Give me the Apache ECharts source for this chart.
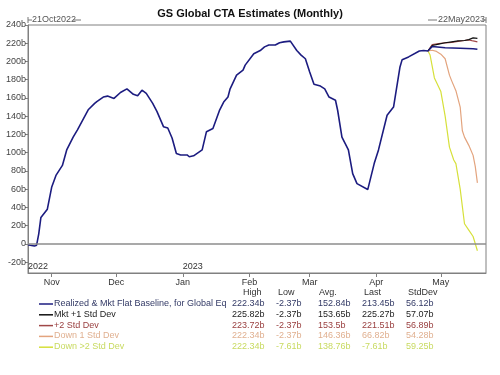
<!DOCTYPE html>
<html>
<head>
<meta charset="utf-8">
<script src="https://cdn.jsdelivr.net/npm/echarts@6.0.0/dist/echarts.min.js"></script>
<style>
  html, body { margin: 0; background: #fff; }
  #chart { width: 500px; height: 375px; }
</style>
</head>
<body>
<div id="chart"></div>
<script>
// x = days since 21 Oct 2022, y = billions
const baseline = [
  [0, -1], [1, -1.5], [3, -2.37], [4, -1.5], [5, 11], [6, 29], [9, 38], [11, 62], [13, 75],
  [16, 86], [18, 103], [21, 117], [23, 125], [28, 147], [31, 154], [32, 156], [35, 161],
  [37, 162], [40, 159.5], [43, 166], [46, 170], [49, 164], [51, 162.5], [53, 168.5],
  [55, 165], [58, 154], [60, 145], [62, 134], [63, 128.5], [65, 127], [67, 116], [69, 99],
  [71, 97.5], [74, 97.5], [75, 95.5], [77, 96.5], [81, 103], [83, 123], [86, 126.5],
  [89, 146], [91, 155.5], [93, 161], [94, 170], [97, 185], [100, 190.5], [101, 196],
  [105, 208.5], [108, 212], [110, 216], [112, 218], [115, 218], [117, 220.5], [119, 221.5],
  [122, 222.34], [125, 212], [127, 207], [129, 203], [131, 188.5], [133, 175], [136, 173],
  [138, 170], [140, 161], [143, 157.5], [144, 146.5], [146, 117], [149, 103], [151, 77],
  [153, 66], [158, 59.5], [161, 88], [163, 103], [167, 141], [170, 150], [173, 194],
  [174, 202], [177, 205], [182, 211.5], [184, 212], [186, 211.5], [188, 216.5], [194, 215],
  [201, 214.5], [207, 214], [209, 213.45]
];
const mktUp1 = [
  [186, 211.5], [188, 217.5], [191, 219], [194, 220.5], [197, 221.5], [200, 222.5],
  [203, 223], [205, 224], [207, 225.82], [209, 225.27]
];
const mktUp2 = [
  [186, 211.5], [188, 218.5], [191, 219.5], [194, 220.5], [197, 221], [200, 222],
  [203, 223], [205, 223.72], [207, 222.5], [209, 221.51]
];
const down1 = [
  [186, 211.5], [188, 212.3], [190, 211], [192, 208], [194, 203], [196, 185], [197, 179],
  [199, 168], [201, 150], [202, 124], [203, 117], [205, 108], [207, 97], [208, 85], [209, 66.82]
];
const down2 = [
  [186, 211.5], [187, 207], [189, 182], [191, 172], [192, 167], [194, 140], [196, 106],
  [198, 92], [199, 88], [201, 60], [203, 22], [205, 15], [207, 8], [209, -7.61]
];

const monthDays = [11, 41, 72, 103, 131, 162, 192];
const monthNames = ['Nov', 'Dec', 'Jan', 'Feb', 'Mar', 'Apr', 'May'];
const yearDays = [0, 72];
const yearNames = ['2022', '2023'];
const yTicks = [-20, 0, 20, 40, 60, 80, 100, 120, 140, 160, 180, 200, 220, 240];

const seriesNames = ['Realized & Mkt Flat Baseline, for Global Eq', 'Mkt +1 Std Dev', '+2 Std Dev', 'Down 1 Std Dev', 'Down >2 Std Dev'];
const lineColors = ['#1c1c80', '#111111', '#a04848', '#e3a47e', '#d6e03a'];
const textColors = ['#333a66', '#222222', '#9a4040', '#e0b090', '#c8da60'];
const statHeads = ['High', 'Low', 'Avg.', 'Last', 'StdDev'];
const statHigh = ['222.34b', '225.82b', '223.72b', '222.34b', '222.34b'];
const statLow = ['-2.37b', '-2.37b', '-2.37b', '-2.37b', '-7.61b'];
const statAvg = ['152.84b', '153.65b', '153.5b', '146.36b', '138.76b'];
const statLast = ['213.45b', '225.27b', '221.51b', '66.82b', '-7.61b'];
const statStd = ['56.12b', '57.07b', '56.89b', '54.28b', '59.25b'];

const FONT = '"Liberation Sans", Arial, sans-serif';
const chart = echarts.init(document.getElementById('chart'));

// legend table under the plot
const table = [];
const headX = [243, 278, 319, 364, 408];
const colX = [232, 276, 318, 362, 406];
statHeads.forEach((h, i) => {
  table.push({ type: 'text', left: headX[i], top: 288, style: { text: h, fill: '#333', font: '9px ' + FONT } });
});
const cols = [statHigh, statLow, statAvg, statLast, statStd];
seriesNames.forEach((name, r) => {
  const y = 299 + r * 10.8;
  table.push({ type: 'line', shape: { x1: 39, y1: y + 5, x2: 53, y2: y + 5 }, style: { stroke: lineColors[r], lineWidth: 1.5 } });
  table.push({ type: 'text', left: 54, top: y, style: { text: name, fill: textColors[r], font: '9px ' + FONT } });
  cols.forEach((c, i) => {
    table.push({ type: 'text', left: colX[i], top: y, style: { text: c[r], fill: textColors[r], font: '9px ' + FONT } });
  });
});

const lineSeries = (name, data, color, width) => ({
  name, type: 'line', data, xAxisIndex: 0, showSymbol: false, symbol: 'none',
  lineStyle: { color, width }, itemStyle: { color }, z: 3
});

chart.setOption({
  animation: false,
  backgroundColor: '#fff',
  title: {
    text: 'GS Global CTA Estimates (Monthly)', left: 'center', top: 3,
    textStyle: { fontSize: 11, fontWeight: 'bold', color: '#111', fontFamily: FONT }
  },
  grid: { left: 28, right: 14, top: 25, bottom: 102, show: true, borderColor: '#808080', borderWidth: 1 },
  xAxis: [{
    type: 'value', min: 0, max: 213,
    axisLine: { show: true, onZero: false, lineStyle: { color: '#808080' } },
    axisTick: { show: true, length: 4, lineStyle: { color: '#808080' }, customValues: monthDays },
    axisLabel: {
      customValues: monthDays, fontSize: 9, color: '#333', fontFamily: FONT, margin: 5,
      formatter: v => monthNames[monthDays.indexOf(v)]
    },
    splitLine: { show: false }
  }, {
    type: 'value', min: 0, max: 213, position: 'bottom',
    axisLine: { show: false, onZero: false }, axisTick: { show: false },
    axisLabel: {
      inside: true, customValues: yearDays, align: 'left', fontSize: 9, color: '#333',
      fontFamily: FONT, margin: 2, formatter: v => yearNames[yearDays.indexOf(v)]
    },
    splitLine: { show: false }
  }],
  yAxis: {
    type: 'value', min: -32, max: 240,
    axisLine: { show: true, lineStyle: { color: '#808080' } },
    axisTick: { show: true, length: 3, lineStyle: { color: '#808080' }, customValues: yTicks },
    axisLabel: {
      customValues: yTicks, fontSize: 9, color: '#444', fontFamily: FONT, margin: 2,
      formatter: v => (v === 0 ? '0' : v + 'b')
    },
    splitLine: { show: false }
  },
  graphic: [
    { type: 'line', shape: { x1: 28, y1: 17, x2: 28, y2: 23 }, style: { stroke: '#777', lineWidth: 1 } },
    { type: 'line', shape: { x1: 28, y1: 20, x2: 32, y2: 20 }, style: { stroke: '#777', lineWidth: 1 } },
    { type: 'text', left: 32, top: 15, style: { text: '21Oct2022', fill: '#555', font: '9px ' + FONT } },
    { type: 'line', shape: { x1: 73, y1: 20, x2: 81, y2: 20 }, style: { stroke: '#777', lineWidth: 1 } },
    { type: 'line', shape: { x1: 428, y1: 20, x2: 437, y2: 20 }, style: { stroke: '#777', lineWidth: 1 } },
    { type: 'text', left: 438, top: 15, style: { text: '22May2023', fill: '#555', font: '9px ' + FONT } },
    { type: 'line', shape: { x1: 482, y1: 20, x2: 486, y2: 20 }, style: { stroke: '#777', lineWidth: 1 } },
    { type: 'line', shape: { x1: 486, y1: 17, x2: 486, y2: 23 }, style: { stroke: '#777', lineWidth: 1 } },
    ...table
  ],
  series: [
    lineSeries(seriesNames[4], down2, lineColors[4], 1.2),
    lineSeries(seriesNames[3], down1, lineColors[3], 1.2),
    lineSeries(seriesNames[2], mktUp2, lineColors[2], 1.2),
    lineSeries(seriesNames[1], mktUp1, lineColors[1], 1.2),
    Object.assign(lineSeries(seriesNames[0], baseline, lineColors[0], 1.6), {
      markLine: {
        silent: true, symbol: 'none', label: { show: false },
        lineStyle: { color: '#8c8c8c', width: 1.5, type: 'solid' },
        data: [{ yAxis: 0 }]
      }
    })
  ]
});
</script>
</body>
</html>
